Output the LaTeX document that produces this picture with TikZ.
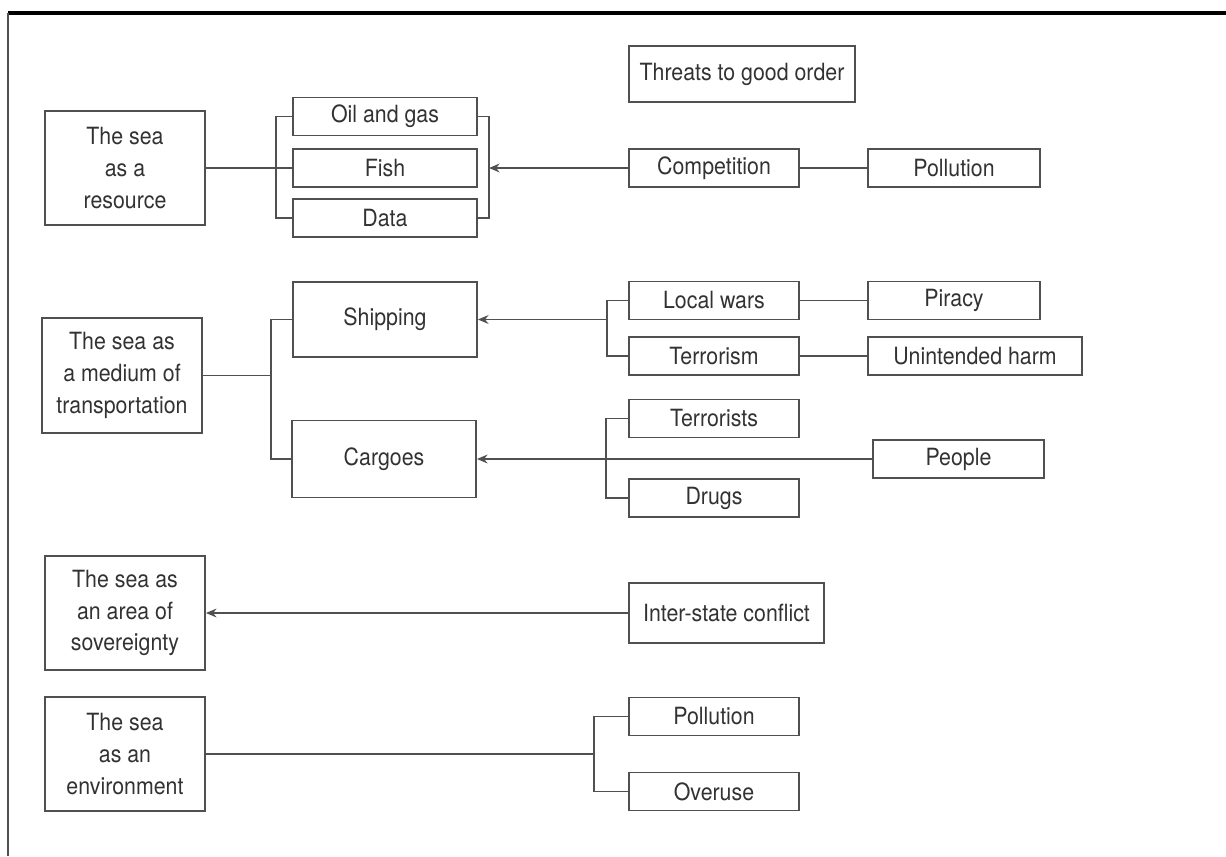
\documentclass[tikz,border=0pt]{standalone}
\usepackage{fontspec}
\setmainfont[FakeStretch=0.9]{TeX Gyre Heros}
\usepackage{xcolor}
\usepackage{tikz}
\usetikzlibrary{arrows.meta, calc}
\definecolor{linecolor}{RGB}{80, 80, 80}
\definecolor{txtcolor}{RGB}{50, 50, 50}

\begin{document}
\begin{tikzpicture}[
    x=0.02cm, y=-0.02cm,
    box/.style={rectangle, draw=linecolor, line width=1.1pt, text=txtcolor,
        font=\fontsize{13.5}{18}\selectfont, align=center, inner sep=2pt},
    sea/.style={box, minimum width=3.2cm, minimum height=2.28cm},
    item/.style={box, minimum width=3.68cm, minimum height=0.76cm},
    threat/.style={box, minimum width=3.4cm, minimum height=0.76cm},
    link/.style={draw=linecolor, line width=1pt},
    arrow/.style={link, -{Stealth[length=6pt, width=5pt]}},
]
    \useasboundingbox (0,0) rectangle (1226,856);
    % frame
    \draw[black, line width=2pt] (8,13) -- (1226,13);
    \draw[linecolor, line width=0.9pt] (8,13) -- (8,856);

    \node[box, minimum width=4.52cm, minimum height=1.12cm] (threats) at (742,74) {Threats to good order};

    % the sea as a resource
    \node[sea] (resource) at (125,168) {The sea\\as a\\resource};
    \foreach \n/\t/\y in {oil/Oil and gas/116.5, fish/Fish/168, data/Data/218} {
        \node[item] (\n) at (385,\y) {\t};
    }
    \node[threat] (competition) at (714,168) {Competition};
    \node[threat, minimum width=3.44cm] (pollution) at (954,168) {Pollution};
    \coordinate (resjoin) at (489,168);
    \draw[link] (resource) -- (fish);
    \draw[link] (oil.west) -- ++(-16,0) |- (data.west);
    \draw[link] (oil.east) -| (resjoin) |- (data.east);
    \draw[arrow] (competition) -- (resjoin);
    \draw[link] (competition) -- (pollution);

    % the sea as a medium of transportation
    \node[sea, minimum height=2.3cm] (transport) at (122,375.5) {The sea as\\a medium of\\transportation};
    \node[item, minimum height=1.5cm] (shipping) at (385,319.5) {Shipping};
    \node[item, minimum height=1.54cm] (cargoes) at (384,459) {Cargoes};
    \coordinate (trjoin) at (271,375.5);
    \draw[link] (transport) -- (trjoin);
    \draw[link] (shipping.west) -| (trjoin) |- (cargoes.west);

    \node[threat] (localwars) at (714,300.5) {Local wars};
    \node[threat] (terrorism) at (714,356) {Terrorism};
    \node[threat, minimum width=3.44cm] (piracy) at (954,300.5) {Piracy};
    \node[threat, minimum width=4.28cm] (harm) at (975,356) {Unintended harm};
    \coordinate (shipjoin) at (607,319.5);
    \draw[link] (localwars.west) -| (shipjoin) |- (terrorism.west);
    \draw[arrow] (shipjoin) -- (shipping);
    \draw[link] (localwars) -- (piracy);
    \draw[link] (terrorism) -- (harm);

    \node[threat] (terrorists) at (714,418.5) {Terrorists};
    \node[threat] (drugs) at (714,498) {Drugs};
    \node[threat, minimum width=3.42cm] (people) at (958.5,459) {People};
    \draw[link] (terrorists.west) -- ++(-22,0) |- (drugs.west);
    \draw[arrow] (people) -- (cargoes);

    % the sea as an area of sovereignty
    \node[sea] (sovereignty) at (125,613) {The sea as\\an area of\\sovereignty};
    \node[threat, minimum width=3.9cm, minimum height=1.2cm] (interstate) at (726.5,613) {Inter-state conflict};
    \draw[arrow] (interstate) -- (sovereignty);

    % the sea as an environment
    \node[sea] (environment) at (125,754) {The sea\\as an\\environment};
    \node[threat] (pollution2) at (714,716.5) {Pollution};
    \node[threat] (overuse) at (714,791.5) {Overuse};
    \coordinate (envjoin) at (594,754);
    \draw[link] (environment) -- (envjoin);
    \draw[link] (pollution2.west) -| (envjoin) |- (overuse.west);
\end{tikzpicture}
\end{document}
